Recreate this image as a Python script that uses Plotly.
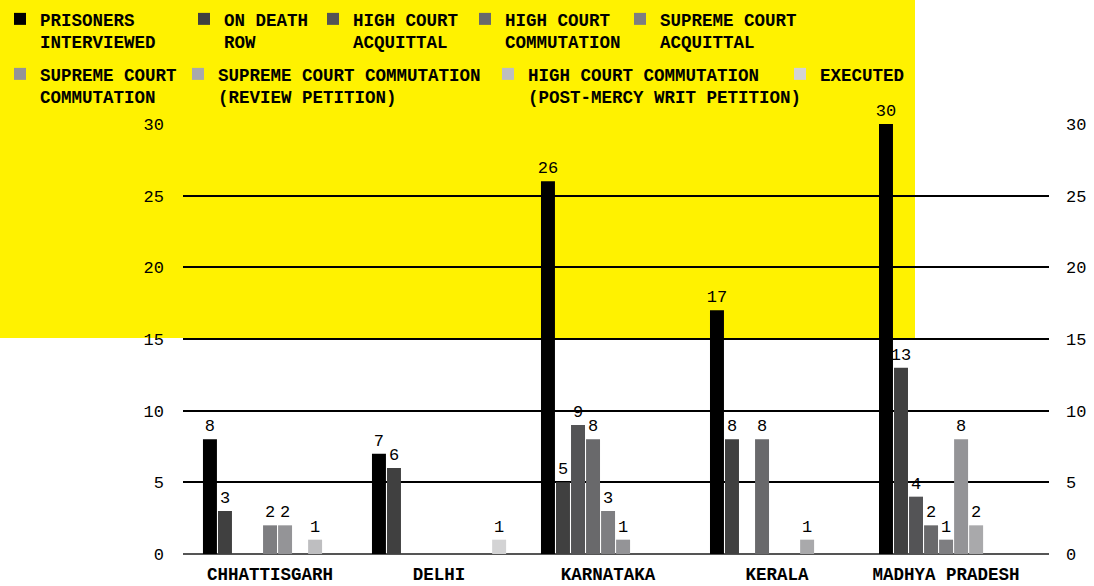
import plotly.graph_objects as go

# ── Data ──────────────────────────────────────────────────────────────
STATES = ["CHHATTISGARH", "DELHI", "KARNATAKA", "KERALA", "MADHYA PRADESH"]

SERIES_NAMES = [
    "PRISONERS<br>INTERVIEWED",
    "ON DEATH<br>ROW",
    "HIGH COURT<br>ACQUITTAL",
    "HIGH COURT<br>COMMUTATION",
    "SUPREME COURT<br>ACQUITTAL",
    "SUPREME COURT<br>COMMUTATION",
    "SUPREME COURT COMMUTATION<br>(REVIEW PETITION)",
    "HIGH COURT COMMUTATION<br>(POST-MERCY WRIT PETITION)",
    "EXECUTED",
]

prisoners_interviewed = [8, 7, 26, 17, 30]
on_death_row          = [3, 6, 5, 8, 13]
hc_acquittal          = [0, 0, 9, 0, 4]
hc_commutation        = [0, 0, 8, 8, 2]
sc_acquittal          = [2, 0, 3, 0, 1]
sc_commutation        = [2, 0, 1, 0, 8]
sc_commutation_review = [0, 0, 0, 1, 2]
hc_commutation_mercy  = [1, 0, 0, 0, 0]
executed              = [0, 1, 0, 0, 0]

SERIES_VALUES = [
    prisoners_interviewed, on_death_row, hc_acquittal, hc_commutation,
    sc_acquittal, sc_commutation, sc_commutation_review,
    hc_commutation_mercy, executed,
]

Y_TICKS = [0, 5, 10, 15, 20, 25, 30]

# ── Style ─────────────────────────────────────────────────────────────
COLORS = ["#000000", "#404040", "#545456", "#69696b", "#7e7e81",
          "#949497", "#a9a9ab", "#bebec0", "#d3d3d4"]
YELLOW = "#fff200"
FONT = "Liberation Mono"

W, H = 1094, 586
M_L, M_R, M_T, M_B = 183, 45, 124, 32
PW, PH = W - M_L - M_R, H - M_T - M_B

# legend entries: pixel x where each label's text starts, and row top
LEGEND_TEXT_X = [40, 224, 353, 505, 660, 40, 218, 528, 820]
LEGEND_ROW_Y = [1, 1, 1, 1, 1, 56, 56, 56, 56]


def px_x(p):
    return (p - M_L) / PW


def px_y(p):
    return (H - M_B - p) / PH


fig = go.Figure()
legends = {}
for i, (name, vals) in enumerate(zip(SERIES_NAMES, SERIES_VALUES)):
    key = "legend" if i == 0 else f"legend{i + 1}"
    fig.add_trace(go.Bar(
        x=STATES, y=vals,
        name=name,
        marker=dict(color=COLORS[i], line=dict(width=0)),
        text=[str(v) if v else "" for v in vals],
        textposition="outside",
        constraintext="none",
        cliponaxis=False,
        textfont=dict(family=FONT, size=17, color="#000"),
        legend=key,
    ))
    # one legend per entry so every label sits where the original has it
    legends[key] = dict(
        x=px_x(LEGEND_TEXT_X[i] - 40), y=px_y(LEGEND_ROW_Y[i]),
        xanchor="left", yanchor="top", orientation="h",
        font=dict(family=FONT, size=17.5, color="#000", weight="bold"),
        bgcolor="rgba(0,0,0,0)", valign="top",
    )

# yellow block behind the top-left of the chart
fig.add_shape(
    type="rect", xref="paper", yref="paper", layer="below",
    x0=px_x(0), x1=px_x(915), y0=px_y(338), y1=px_y(0),
    fillcolor=YELLOW, line=dict(width=0),
)

fig.update_layout(
    width=W, height=H,
    margin=dict(l=M_L, r=M_R, t=M_T, b=M_B, autoexpand=False),
    paper_bgcolor="white",
    plot_bgcolor="rgba(0,0,0,0)",
    barmode="group",
    bargap=0.2,
    bargroupgap=0.07,
    showlegend=True,
    xaxis=dict(
        range=[-0.515, 4.609],
        showgrid=False, showline=False, zeroline=False, ticks="",
        tickfont=dict(family=FONT, size=17.5, color="#000", weight="bold"),
        ticklabelstandoff=7,
    ),
    yaxis=dict(
        range=[0, 30], tickvals=Y_TICKS,
        showgrid=True, gridcolor="#000", gridwidth=1.5,
        zeroline=True, zerolinecolor="#555", zerolinewidth=2,
        showline=False, ticks="",
        tickfont=dict(family=FONT, size=17, color="#000"),
        ticklabelstandoff=18,
    ),
    yaxis2=dict(
        range=[0, 30], tickvals=Y_TICKS, overlaying="y", side="right",
        showgrid=False, zeroline=False, showline=False, ticks="",
        tickfont=dict(family=FONT, size=17, color="#000"),
        ticklabelstandoff=16,
    ),
    **legends,
)

# invisible trace so the right-hand axis is drawn
fig.add_trace(go.Scatter(x=[STATES[0]], y=[0], yaxis="y2", mode="markers",
                         marker=dict(opacity=0), showlegend=False,
                         hoverinfo="skip"))

# the page's default 8px body margin would push the figure off-screen
fig.write_html("out.html", config={"displayModeBar": False},
               post_script="document.body.style.margin='0';")
